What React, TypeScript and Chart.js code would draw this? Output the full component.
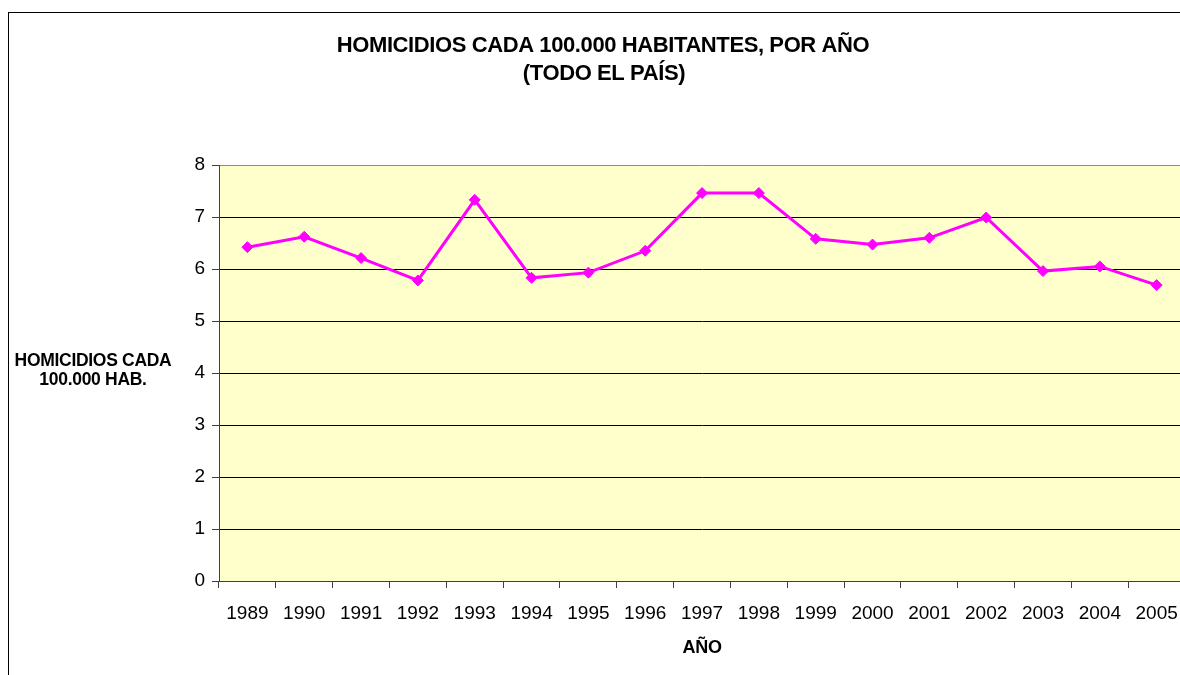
import React, { useEffect, useRef } from "react";
import { Chart, registerables } from "chart.js";

Chart.register(...registerables);

const YEARS = ["1989", "1990", "1991", "1992", "1993", "1994", "1995", "1996", "1997", "1998", "1999", "2000", "2001", "2002", "2003", "2004", "2005"];
const HOMICIDE_RATE = [6.42, 6.62, 6.21, 5.78, 7.33, 5.83, 5.93, 6.35, 7.46, 7.46, 6.58, 6.47, 6.6, 6.99, 5.96, 6.05, 5.69];
const TITLE_LINES = ["HOMICIDIOS CADA 100.000 HABITANTES, POR AÑO", "(TODO EL PAÍS)"];
const Y_TITLE_LINES = ["HOMICIDIOS CADA", "100.000 HAB."];
const X_TITLE = "AÑO";
const Y_MIN = 0;
const Y_MAX = 8;

const FONT = '"Liberation Sans", Arial, sans-serif';

const decorPlugin = {
  id: "decor",
  beforeDraw(chart: any) {
    const { ctx, chartArea } = chart;
    ctx.save();
    ctx.fillStyle = "#FFFFCC";
    ctx.fillRect(chartArea.left, chartArea.top, chartArea.right - chartArea.left, chartArea.bottom - chartArea.top);
    ctx.restore();
  },
  afterDraw(chart: any) {
    const { ctx, chartArea } = chart;
    ctx.save();
    ctx.fillStyle = "#000";
    ctx.textAlign = "center";
    ctx.textBaseline = "middle";
    ctx.letterSpacing = "-0.4px";
    ctx.font = `bold 22px ${FONT}`;
    ctx.fillText(TITLE_LINES[0], 603, 46);
    ctx.fillText(TITLE_LINES[1], 604, 74);
    ctx.letterSpacing = "-0.3px";
    ctx.font = `bold 17.5px ${FONT}`;
    ctx.fillText(Y_TITLE_LINES[0], 93, 361);
    ctx.fillText(Y_TITLE_LINES[1], 93, 380);
    ctx.font = `bold 18px ${FONT}`;
    ctx.fillText(X_TITLE, (chartArea.left + chartArea.right) / 2, 648);
    ctx.restore();
  },
};

export default function App() {
  const canvasRef = useRef<HTMLCanvasElement | null>(null);

  useEffect(() => {
    if (!canvasRef.current) return;
    const chart = new Chart(canvasRef.current, {
      type: "line",
      data: {
        labels: YEARS,
        datasets: [
          {
            data: HOMICIDE_RATE,
            borderColor: "#FF00FF",
            backgroundColor: "#FF00FF",
            borderWidth: 3,
            pointStyle: "rectRot",
            pointRadius: 5.5,
            pointBackgroundColor: "#FF00FF",
            pointBorderColor: "#FF00FF",
            pointBorderWidth: 1,
            tension: 0,
          },
        ],
      },
      options: {
        animation: false,
        responsive: false,
        maintainAspectRatio: false,
        layout: { padding: { top: 165, right: 0, bottom: 0, left: 0 } },
        plugins: {
          legend: { display: false },
          title: { display: false },
          tooltip: { enabled: false },
        },
        scales: {
          x: {
            offset: true,
            afterFit(scale: any) {
              scale.height = 94;
            },
            grid: {
              offset: true,
              drawOnChartArea: false,
              drawTicks: true,
              tickLength: 7,
              tickColor: "#404040",
            },
            border: { display: true, color: "#404040", width: 1 },
            ticks: {
              color: "#000",
              font: { family: FONT, size: 19 },
              padding: 14,
              maxRotation: 0,
              autoSkip: false,
            },
          },
          y: {
            min: Y_MIN,
            max: Y_MAX,
            afterFit(scale: any) {
              scale.width = 219;
            },
            grid: {
              color: (c: any) => (c.tick && c.tick.value === Y_MAX ? "#8c8c8c" : "#000"),
              lineWidth: 1,
              drawTicks: true,
              tickLength: 7,
              tickColor: "#404040",
            },
            border: { display: true, color: "#404040", width: 1 },
            ticks: {
              stepSize: 1,
              color: "#000",
              font: { family: FONT, size: 19 },
              padding: 7,
            },
          },
        },
      },
      plugins: [decorPlugin],
    });
    return () => chart.destroy();
  }, []);

  return (
    <div
      style={{
        position: "fixed",
        left: 0,
        top: 0,
        width: 1180,
        height: 675,
        overflow: "hidden",
        background: "#fff",
      }}
    >
      <canvas
        ref={canvasRef}
        width={1192}
        height={675}
        style={{ position: "absolute", left: 0, top: 0, width: 1192, height: 675 }}
      />
      <div
        style={{
          position: "absolute",
          left: 8,
          top: 12,
          width: 1250,
          height: 750,
          border: "1px solid #000",
          pointerEvents: "none",
        }}
      />
    </div>
  );
}
